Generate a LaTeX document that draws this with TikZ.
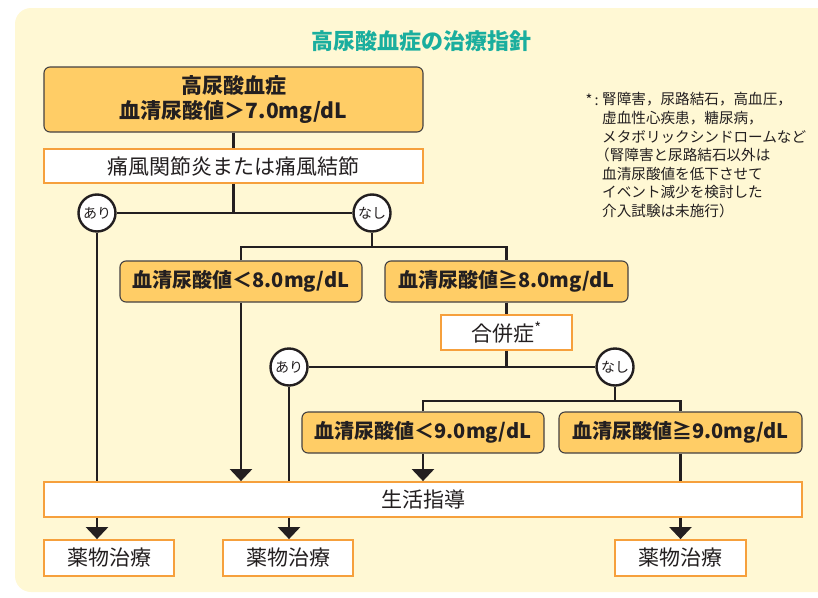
\documentclass[tikz,border=0pt]{standalone}
\usepackage{fontspec}
\setmainfont{Noto Sans CJK JP}
\usetikzlibrary{arrows.meta}
\definecolor{bgyel}{HTML}{FFF8D4}
\definecolor{boxor}{HTML}{FFCD66}
\definecolor{edgeor}{HTML}{F6A03C}
\definecolor{titleteal}{HTML}{1AAE9E}
\definecolor{ink}{HTML}{231F20}
\begin{document}
\begin{tikzpicture}[x=1pt,y=-1pt,
  orangebox/.style={draw=ink!85, line width=1.1pt, fill=boxor, rounded corners=6pt,
    inner sep=0pt, font=\fontsize{20}{24}\selectfont\bfseries, text=ink},
  whitebox/.style={draw=edgeor, line width=1.8pt, fill=white, inner sep=0pt,
    font=\fontsize{21}{24}\selectfont, text=ink},
  yesno/.style={circle, draw=ink, line width=2.4pt, fill=white, minimum size=37pt,
    inner sep=0pt, font=\fontsize{14}{16}\selectfont, text=ink},
  link/.style={draw=ink, line width=2.4pt},
  arrowlink/.style={link, -{Triangle[width=22pt,length=12pt]}},
  note/.style={inner sep=0pt, font=\fontsize{14.6}{18.6}\selectfont, text=ink}
]
\useasboundingbox (0,0) rectangle (818,597);
\clip (0,0) rectangle (818,597);
\fill[bgyel, rounded corners=16pt] (15,8) rectangle (850,592);

\node[font=\fontsize{22}{24}\selectfont\bfseries, text=titleteal] (title) at (421,41) {高尿酸血症の治療指針};

\node[orangebox, minimum width=379pt, minimum height=65pt, align=center,
  font=\fontsize{21}{25}\selectfont\bfseries] (top) at (233.5,99.5)
  {高尿酸血症\\血清尿酸値＞7.0mg/dL};
\node[whitebox, minimum width=379pt, minimum height=34pt] (gout) at (233.5,166) {痛風関節炎または痛風結節};

\node[yesno] (ari1) at (97,213) {あり};
\node[yesno] (nashi1) at (372,213) {なし};

\node[orangebox, minimum width=242pt, minimum height=41pt] (lt8) at (241,281.5) {血清尿酸値＜8.0mg/dL};
\node[orangebox, minimum width=243pt, minimum height=41pt] (ge8) at (506.5,281.5) {血清尿酸値≧8.0mg/dL};

\node[whitebox, minimum width=131pt, minimum height=35pt] (comp) at (506.5,332.5) {合併症\textsuperscript{*}};

\node[yesno] (ari2) at (289,367) {あり};
\node[yesno] (nashi2) at (615,367) {なし};

\node[orangebox, minimum width=242pt, minimum height=41pt] (lt9) at (423,432.5) {血清尿酸値＜9.0mg/dL};
\node[orangebox, minimum width=243pt, minimum height=41pt] (ge9) at (680.5,432.5) {血清尿酸値≧9.0mg/dL};

\node[whitebox, minimum width=758pt, minimum height=35pt] (life) at (423,499.5) {生活指導};

\node[whitebox, minimum width=130pt, minimum height=36pt] (drug1) at (109,558) {薬物治療};
\node[whitebox, minimum width=130pt, minimum height=36pt] (drug2) at (288,558) {薬物治療};
\node[whitebox, minimum width=131pt, minimum height=36pt] (drug3) at (680.5,558) {薬物治療};

\node[note, anchor=base east] (fnstar) at (599,105.3) {*\,:};
\node[note, anchor=north west, align=left] (fn) at (602,92.5)
  {腎障害，尿路結石，高血圧，\\
   虚血性心疾患，糖尿病，\\
   メタボリックシンドロームなど\\
   \kern-7pt（腎障害と尿路結石以外は\\
   血清尿酸値を低下させて\\
   イベント減少を検討した\\
   介入試験は未施行）};

\coordinate (j1) at (372,247);
\coordinate (j2) at (615,401);

\draw[link] (top) -- (gout);
\draw[link] (gout.south) -- (gout.south |- ari1.center);
\draw[link] (ari1) -- (nashi1);
\draw[link] (nashi1) -- (j1);
\draw[link] (lt8.north) |- (j1) -| (ge8.north);
\draw[arrowlink] (lt8) -- (lt8.south |- life.north);
\draw[link] (ge8) -- (comp);
\draw[link] (comp.south) -- (comp.south |- ari2.center);
\draw[link] (ari2) -- (nashi2);
\draw[link] (nashi2) -- (j2);
\draw[link] (lt9.north) |- (j2) -| (ge9.north);
\draw[arrowlink] (lt9) -- (lt9.south |- life.north);

\draw[link] (ari1) -- (ari1.south |- life.north);
\draw[arrowlink] (ari1.south |- life.south) -- (ari1.south |- drug1.north);
\draw[link] (ari2) -- (ari2.south |- life.north);
\draw[arrowlink] (ari2.south |- life.south) -- (ari2.south |- drug2.north);
\draw[link] (ge9) -- (ge9.south |- life.north);
\draw[arrowlink] (ge9.south |- life.south) -- (ge9.south |- drug3.north);
\end{tikzpicture}
\end{document}
